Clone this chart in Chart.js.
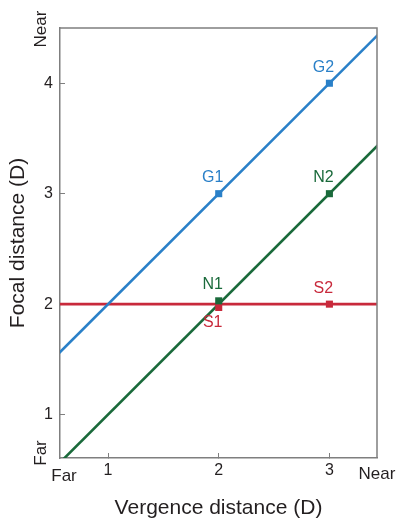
<!DOCTYPE html>
<html>
<head>
<meta charset="utf-8">
<script src="https://cdn.jsdelivr.net/npm/chart.js@4.4.1/dist/chart.umd.min.js"></script>
<style>
  html, body { margin: 0; padding: 0; background: #fff; }
  #wrap { width: 397px; height: 522px; }
</style>
</head>
<body>
<div id="wrap"><canvas id="chart"></canvas></div>
<script>
// Ejes
const xRange = [0.566, 3.43];
const yRange = [0.607, 4.5];
const xTicks = [1, 2, 3];
const yTicks = [1, 2, 3, 4];
const xEndLabels = ['Far', 'Near'];
const yEndLabels = ['Far', 'Near'];

// Rectas (extremos, recortados por el área del gráfico)
const lineX = [0.5, 3.5];
const blueLineY = [1.5, 4.5];
const greenLineY = [0.5, 3.5];
const redLineY = [2, 2];

// Puntos marcados
const blueNames = ['G1', 'G2'];
const blueX = [2, 3];
const blueY = [3, 4];
const greenNames = ['N1', 'N2'];
const greenX = [2, 3];
const greenY = [2.03, 3];
const redNames = ['S1', 'S2'];
const redX = [2, 3];
const redY = [1.97, 2];

const BLUE = '#2a80c8';
const GREEN = '#1a6a3b';
const RED = '#c8293b';
const GRAY = '#7f7f7f';
const TEXT = '#231f20';
const FONT = '"Liberation Sans", Arial, Helvetica, sans-serif';

const pts = (xs, ys) => xs.map((x, i) => ({ x: x, y: ys[i] }));

function lineSet(ys, color) {
    return {
        type: 'line',
        data: pts(lineX, ys),
        borderColor: color,
        borderWidth: 2.6,
        pointRadius: 0,
        fill: false,
        order: 2
    };
}

function markerSet(xs, ys, names, color) {
    return {
        type: 'scatter',
        data: pts(xs, ys),
        names: names,
        backgroundColor: color,
        borderColor: color,
        borderWidth: 0,
        pointStyle: 'rect',
        pointRadius: 5,
        order: 1
    };
}

// Etiquetas de puntos, bordes del marco y textos Far/Near
const annotations = {
    id: 'annotations',
    afterDatasetsDraw(chart) {
        const ctx = chart.ctx;
        const a = chart.chartArea;
        const xs = chart.scales.x, ys = chart.scales.y;
        ctx.save();
        // marco superior y derecho
        ctx.strokeStyle = GRAY;
        ctx.lineWidth = 1.5;
        ctx.beginPath();
        ctx.moveTo(a.left, a.top);
        ctx.lineTo(a.right, a.top);
        ctx.lineTo(a.right, a.bottom);
        ctx.stroke();

        ctx.font = '16px ' + FONT;
        ctx.textAlign = 'center';
        ctx.textBaseline = 'middle';
        chart.data.datasets.forEach((ds, i) => {
            if (!ds.names) return;
            const meta = chart.getDatasetMeta(i);
            ctx.fillStyle = ds.borderColor;
            meta.data.forEach((el, j) => {
                const below = ds.names[j] === 'S1';
                ctx.fillText(ds.names[j], el.x - 6, below ? el.y + 15 : el.y - 16);
            });
        });

        ctx.fillStyle = TEXT;
        ctx.font = '17px ' + FONT;
        ctx.fillText(xEndLabels[0], xs.getPixelForValue(xRange[0]) + 4, a.bottom + 18);
        ctx.fillText(xEndLabels[1], xs.getPixelForValue(xRange[1]), a.bottom + 16);

        const yl = 41;
        [[yEndLabels[0], ys.getPixelForValue(yRange[0]) - 5], [yEndLabels[1], ys.getPixelForValue(yRange[1]) + 1]].forEach(([t, py]) => {
            ctx.save();
            ctx.translate(yl, py);
            ctx.rotate(-Math.PI / 2);
            ctx.fillText(t, 0, 0);
            ctx.restore();
        });
        ctx.restore();
    }
};

new Chart(document.getElementById('chart'), {
    data: {
        datasets: [
            lineSet(blueLineY, BLUE),
            lineSet(greenLineY, GREEN),
            lineSet(redLineY, RED),
            markerSet(blueX, blueY, blueNames, BLUE),
            markerSet(greenX, greenY, greenNames, GREEN),
            markerSet(redX, redY, redNames, RED)
        ]
    },
    options: {
        responsive: true,
        maintainAspectRatio: false,
        animation: false,
        events: [],
        layout: { padding: { left: 0, top: 28, right: 20, bottom: 0 } },
        plugins: {
            legend: { display: false },
            tooltip: { enabled: false }
        },
        scales: {
            x: {
                type: 'linear',
                position: 'bottom',
                min: xRange[0],
                max: xRange[1],
                afterBuildTicks: s => { s.ticks = xTicks.map(v => ({ value: v })); },
                afterFit: s => { s.height = 64; },
                grid: { drawOnChartArea: false, tickLength: -5, color: GRAY, lineWidth: 1 },
                border: { color: GRAY, width: 1.5 },
                ticks: { padding: 8, color: TEXT, font: { family: FONT, size: 16 } },
                title: {
                    display: true,
                    text: 'Vergence distance (D)',
                    color: TEXT,
                    font: { family: FONT, size: 21 },
                    padding: { top: 0, bottom: 1 }
                }
            },
            y: {
                type: 'linear',
                position: 'left',
                min: yRange[0],
                max: yRange[1],
                afterBuildTicks: s => { s.ticks = yTicks.map(v => ({ value: v })); },
                afterFit: s => { s.width = 60; },
                grid: { drawOnChartArea: false, tickLength: -5, color: GRAY, lineWidth: 1 },
                border: { color: GRAY, width: 1.5 },
                ticks: { padding: 12, color: TEXT, font: { family: FONT, size: 16 } },
                title: {
                    display: true,
                    text: 'Focal distance (D)',
                    color: TEXT,
                    font: { family: FONT, size: 21 },
                    padding: { top: 6, bottom: 0 }
                }
            }
        }
    },
    plugins: [annotations]
});
</script>
</body>
</html>
